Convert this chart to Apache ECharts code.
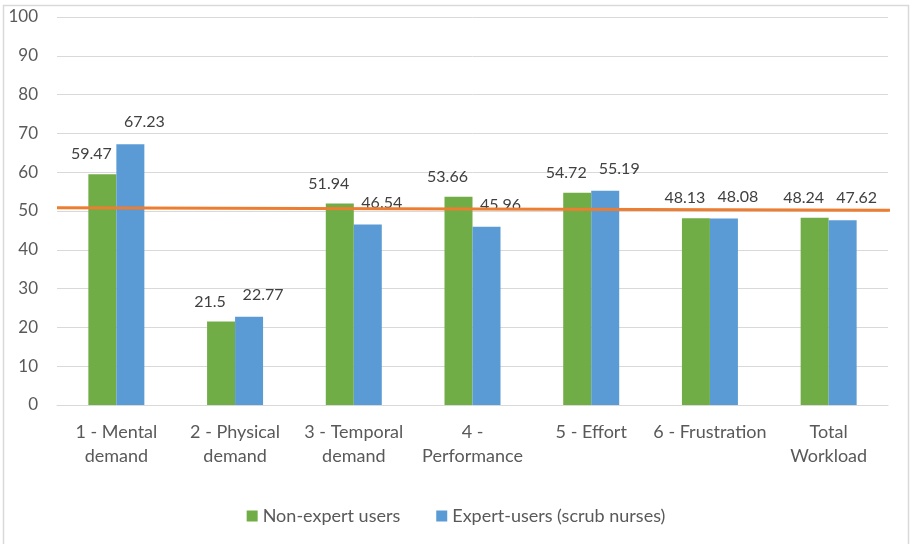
<!DOCTYPE html>
<html>
<head>
<meta charset="utf-8">
<script src="https://cdn.jsdelivr.net/npm/echarts@6/dist/echarts.min.js"></script>
<style>
html,body{margin:0;padding:0;background:#fff;}
#chart{width:912px;height:544px;}
</style>
</head>
<body>
<div id="chart"></div>
<script>
var categories = ['1 - Mental\ndemand', '2 - Physical\ndemand', '3 - Temporal\ndemand', '4 -\nPerformance', '5 - Effort', '6 - Frustration', 'Total\nWorkload'];
var nonExpert = [59.47, 21.5, 51.94, 53.66, 54.72, 48.13, 48.24];
var expert = [67.23, 22.77, 46.54, 45.96, 55.19, 48.08, 47.62];
var refLine = [[0, 50.85], [1.011, 50.18]];
var yTicks = [0, 10, 20, 30, 40, 50, 60, 70, 80, 90, 100];

var FONT = 'Lato';
var chart = echarts.init(document.getElementById('chart'));
chart.setOption({
  animation: false,
  backgroundColor: '#ffffff',
  textStyle: { fontFamily: FONT },
  graphic: [{
    type: 'rect',
    shape: { x: 3.5, y: 5.5, width: 905, height: 545 },
    style: { fill: 'none', stroke: '#D9D9D9', lineWidth: 1.5 },
    silent: true
  }],
  grid: { left: 57, right: 24, top: 17, bottom: 139, containLabel: false },
  legend: {
    top: 502,
    left: 'center',
    itemWidth: 11,
    itemHeight: 11,
    itemGap: 36,
    icon: 'rect',
    data: ['Non-expert users', 'Expert-users (scrub nurses)'],
    textStyle: { fontFamily: FONT, fontSize: 18, color: '#595959' }
  },
  xAxis: [{
    type: 'category',
    data: categories,
    axisLine: { show: true, lineStyle: { color: '#D9D9D9', width: 1 } },
    axisTick: { show: false },
    axisLabel: { fontFamily: FONT, fontSize: 18, color: '#595959', margin: 15, lineHeight: 24, interval: 0 }
  }, {
    type: 'value', min: 0, max: 1, show: false
  }],
  yAxis: {
    type: 'value',
    min: yTicks[0],
    max: yTicks[yTicks.length - 1],
    interval: 10,
    axisLine: { show: false },
    axisTick: { show: false },
    splitLine: { lineStyle: { color: '#D9D9D9', width: 1 } },
    axisLabel: { fontFamily: FONT, fontSize: 17, color: '#595959', margin: 19 }
  },
  series: [{
    name: 'Non-expert users',
    type: 'bar',
    data: nonExpert,
    barWidth: 28,
    barGap: '0%',
    itemStyle: { color: '#70AD47' },
    label: { show: true, position: 'top', distance: 12, offset: [-11, 0], fontFamily: FONT, fontSize: 16, color: '#404040' }
  }, {
    name: 'Expert-users (scrub nurses)',
    type: 'bar',
    data: expert,
    barWidth: 28,
    barGap: '0%',
    itemStyle: { color: '#5B9BD5' },
    label: { show: true, position: 'top', distance: 14, offset: [14, 0], fontFamily: FONT, fontSize: 16, color: '#404040' }
  }, {
    name: 'ref',
    type: 'line',
    xAxisIndex: 1,
    data: refLine,
    symbol: 'none',
    clip: false,
    silent: true,
    z: 5,
    lineStyle: { color: '#ED7D31', width: 3 }
  }]
});
</script>
</body>
</html>
